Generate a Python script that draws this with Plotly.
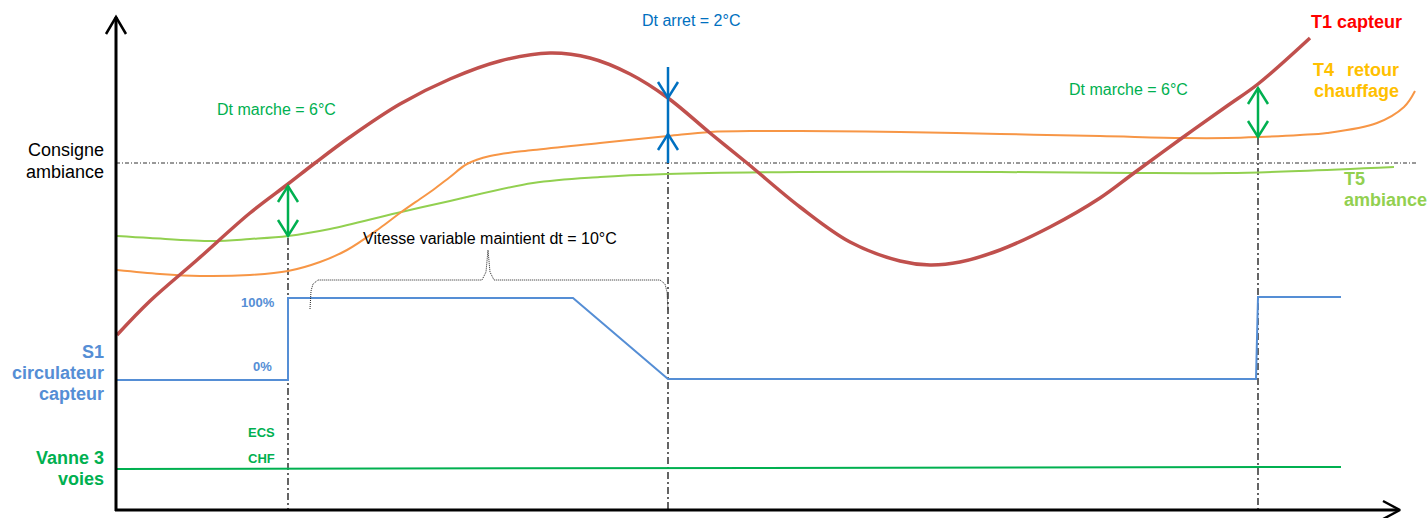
import plotly.graph_objects as go

W, H = 1427, 518

# ---- data (x = time position, y = level; y axis drawn downward like the sketch) ----
t1_x = [117, 150, 197, 250, 288, 315, 350, 400, 450, 500, 550, 590, 630, 668, 710, 747, 800, 850, 900, 930, 960, 1000, 1050, 1100, 1134, 1182, 1227, 1258, 1310]
t1_y = [335, 301, 260, 213, 184, 163, 137, 104, 79, 61, 53, 58, 74, 98, 133, 163, 207, 242, 261, 265, 262, 250, 227, 198, 173, 138, 106, 84, 38]

t4_x = [117, 160, 200, 250, 288, 320, 347, 380, 400, 420, 433, 450, 467, 490, 533, 600, 668, 710, 760, 800, 900, 1000, 1100, 1183, 1227, 1259, 1300, 1327, 1377, 1404, 1415]
t4_y = [270, 274, 276, 275, 271, 262, 250, 228, 213, 199, 190, 177, 164, 156, 150, 143, 136, 132, 131, 131, 132, 134, 136, 138, 138, 137, 135, 133, 123, 107, 91]

t5_x = [117, 150, 213, 250, 288, 330, 397, 450, 533, 600, 667, 800, 1000, 1134, 1227, 1300, 1394]
t5_y = [236, 238, 241, 239, 236, 229, 213, 201, 183, 177, 174, 172, 172, 173, 173, 171, 167]

s1_x = [117, 288, 288, 573, 668, 1256, 1258, 1341]
s1_y = [380, 380, 298, 298, 379, 379, 297, 297]

v3_x = [117, 1341]
v3_y = [469, 467]

consigne_y = 163
event_x = [288, 668, 1258]
event_top = [238, 67, 138]

# Dt marche arrows (x, top, bottom)
dtm_x = [288, 1258]
dtm_top = [186, 88]
dtm_bot = [236, 137]

# Dt arret (x, line top, down-arrow tip, up-arrow tip, line bottom)
dta = dict(x=668, top=67, tip_down=98, tip_up=134, bottom=163)

# brace under the speed text
brace_x = [310, 311, 313, 318, 482, 486, 488, 490, 494, 660, 665, 667, 668]
brace_y = [309, 291, 284, 280, 280, 272, 250, 272, 280, 280, 284, 292, 310]

FONT = "Liberation Sans, Arial, sans-serif"

fig = go.Figure()

def line(x, y, color, width, dash="solid", shape="linear"):
    fig.add_trace(go.Scatter(x=x, y=y, mode="lines", hoverinfo="skip", showlegend=False,
                             line=dict(color=color, width=width, dash=dash, shape=shape)))

# consigne ambiance dotted line
line([116, 1417], [consigne_y, consigne_y], "#333333", 1, dash="4px,2px,1px,2px")
# event vertical dash-dot lines
for ex, et in zip(event_x, event_top):
    line([ex, ex], [et, 510], "#111111", 1.3, dash="7px,3px,2px,3px")

# curves
line(t5_x, t5_y, "#92D050", 2, shape="spline")
line(t4_x, t4_y, "#F79646", 2, shape="spline")
line(t1_x, t1_y, "#C0504D", 3.5, shape="spline")
line(s1_x, s1_y, "#558ED5", 2)
line(v3_x, v3_y, "#00B050", 2)

# brace
line(brace_x, brace_y, "#222222", 1, dash="1px,1px")

# Dt marche double arrows
for ax, at, ab in zip(dtm_x, dtm_top, dtm_bot):
    line([ax, ax], [at, ab], "#00B050", 2.5)
    line([ax - 10, ax, ax + 10], [at + 16, at, at + 16], "#00B050", 2.5)
    line([ax - 10, ax, ax + 10], [ab - 16, ab, ab - 16], "#00B050", 2.5)

# Dt arret arrows
dx = dta["x"]
line([dx, dx], [dta["top"], dta["bottom"]], "#0070C0", 2.5)
line([dx - 10, dx, dx + 10], [dta["tip_down"] - 16, dta["tip_down"], dta["tip_down"] - 16], "#0070C0", 2.5)
line([dx - 10, dx, dx + 10], [dta["tip_up"] + 16, dta["tip_up"], dta["tip_up"] + 16], "#0070C0", 2.5)

# axes with arrows
line([116, 116], [511, 17], "#000000", 3)
line([106, 116, 126], [34, 17, 34], "#000000", 2.5)
line([115, 1399], [510, 510], "#000000", 3)
line([1383, 1400, 1383], [501, 510, 519], "#000000", 2.5)

# ---- texts ----
labels = [
    # text, x, y, xanchor, color, size, bold
    ("Consigne", 106, 150, "right", "#000000", 18, False),
    ("ambiance", 106, 172, "right", "#000000", 18, False),
    ("S1", 106, 352, "right", "#558ED5", 18, True),
    ("circulateur", 106, 373, "right", "#558ED5", 18, True),
    ("capteur", 106, 394, "right", "#558ED5", 18, True),
    ("Vanne 3", 106, 458, "right", "#00B050", 18, True),
    ("voies", 106, 479, "right", "#00B050", 18, True),
    ("100%", 277, 302, "right", "#558ED5", 13, True),
    ("0%", 274, 366, "right", "#558ED5", 13, True),
    ("ECS", 277, 432, "right", "#00B050", 13, True),
    ("CHF", 277, 458, "right", "#00B050", 13, True),
    ("Dt marche = 6°C", 276, 109, "center", "#00B050", 16, False),
    ("Dt marche = 6°C", 1128, 89, "center", "#00B050", 16, False),
    ("Dt arret = 2°C", 691, 20, "center", "#0070C0", 16, False),
    ("Vitesse variable maintient dt = 10°C", 490, 238, "center", "#000000", 16, False),
    ("T1 capteur", 1309, 22, "left", "#FF0000", 18, True),
    ("T4", 1311, 70, "left", "#FFC000", 18, True),
    ("retour", 1401, 70, "right", "#FFC000", 18, True),
    ("chauffage", 1312, 91, "left", "#FFC000", 18, True),
    ("T5", 1342, 179, "left", "#92D050", 18, True),
    ("ambiance", 1342, 200, "left", "#92D050", 18, True),
]
for txt, x, y, xa, col, size, bold in labels:
    fig.add_annotation(x=x, y=y, text=f"<b>{txt}</b>" if bold else txt, showarrow=False,
                       xanchor=xa, yanchor="middle", xref="x", yref="y",
                       font=dict(family=FONT, size=size, color=col))

fig.update_layout(
    width=W, height=H, margin=dict(l=0, r=0, t=0, b=0),
    paper_bgcolor="white", plot_bgcolor="white",
    xaxis=dict(range=[0, W], visible=False, fixedrange=True),
    yaxis=dict(range=[H, 0], visible=False, fixedrange=True),
)

fig.write_html("out.html", config={"displayModeBar": False},
               post_script="document.body.style.margin='0';document.body.style.overflow='hidden';")
